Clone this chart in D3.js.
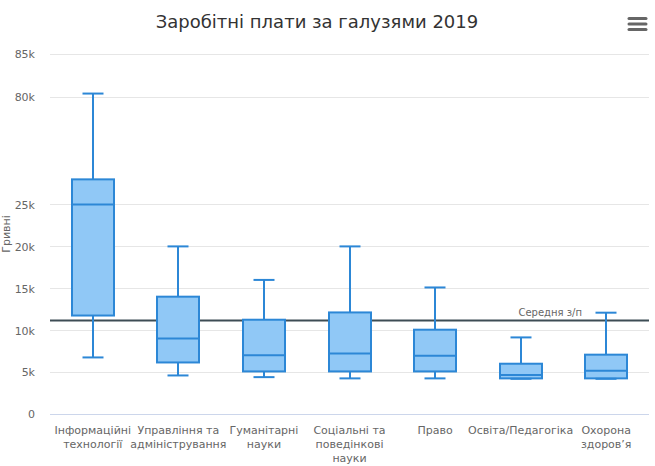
<!DOCTYPE html>
<html>
<head>
<meta charset="utf-8">
<script src="https://cdn.jsdelivr.net/npm/d3@7"></script>
<style>
  body { margin: 0; background: #fff; }
  text { font-family: "DejaVu Sans", Verdana, sans-serif; }
</style>
</head>
<body>
<div id="chart"></div>
<script>
// data
var categories = ["Інформаційні технології", "Управління та адміністрування", "Гуманітарні науки",
    "Соціальні та поведінкові науки", "Право", "Освіта/Педагогіка", "Охорона здоров’я"];
var lowValues    = [6750, 4600, 4400, 4250, 4250, 4200, 4200];
var q1Values     = [11750, 6150, 5080, 5080, 5080, 4250, 4250];
var medianValues = [25000, 9000, 7000, 7230, 6960, 4650, 5170];
var q3Values     = [28000, 14000, 11250, 12120, 10060, 6000, 7080];
var highValues   = [80400, 20000, 16000, 20000, 15100, 9140, 12090];
var meanSalary = 11150;
var tickValues = [0, 5000, 10000, 15000, 20000, 25000, 80000, 85000];

var width = 655, height = 466;
var margin = {left: 50, right: 6, top: 54, bottom: 52};
var color = {
    stroke: "#2c87d6",
    fill: "#90c8f6",
    mean: "#3d4d55",
    grid: "#e6e6e6",
    label: "#666666"
};

var svg = d3.select("#chart").append("svg")
    .attr("width", width)
    .attr("height", height);

var x = d3.scaleBand()
    .domain(categories)
    .range([margin.left, width - margin.right]);

// broken axis: 28k..78k squeezed
var bottom = height - margin.bottom;
var unit = 8.38 / 1000;
var y = d3.scaleLinear()
    .domain([0, 28000, 78000, 85000])
    .range([bottom, bottom - 28000 * unit, margin.top + 7000 * 8.6 / 1000, margin.top]);

// gridlines
svg.append("g")
    .selectAll("line")
    .data(tickValues.slice(1))
    .enter().append("line")
    .attr("x1", margin.left)
    .attr("x2", width - margin.right)
    .attr("y1", function (d) { return Math.round(y(d)) + 0.5; })
    .attr("y2", function (d) { return Math.round(y(d)) + 0.5; })
    .style("stroke", color.grid);

// y axis labels
var yAxis = d3.axisLeft(y)
    .tickValues(tickValues)
    .tickSize(0)
    .tickPadding(0)
    .tickFormat(function (d) { return d == 0 ? "0" : (d / 1000) + "k"; });

var gy = svg.append("g")
    .attr("transform", "translate(" + (margin.left - 15) + ",0)")
    .call(yAxis);
gy.select(".domain").remove();
gy.selectAll("text")
    .style("font-size", "11px")
    .style("fill", color.label)
    .attr("dy", "0.35em");

svg.append("text")
    .attr("transform", "translate(10," + ((margin.top + bottom) / 2) + ") rotate(-90)")
    .attr("text-anchor", "middle")
    .style("font-size", "11px")
    .style("fill", color.label)
    .text("Гривні");

// x axis
svg.append("line")
    .attr("x1", margin.left)
    .attr("x2", width - margin.right)
    .attr("y1", bottom + 0.5)
    .attr("y2", bottom + 0.5)
    .style("stroke", "#ccd6eb");

var gx = svg.append("g");
categories.forEach(function (c) {
    var t = gx.append("text")
        .attr("x", x(c) + x.bandwidth() / 2)
        .attr("y", bottom + 20)
        .attr("text-anchor", "middle")
        .style("font-size", "11px")
        .style("fill", color.label);
    wrap(t, c, x.bandwidth() - 2);
});

function wrap(t, str, w) {
    var words = str.split(" ");
    var line = [];
    var tspan = t.append("tspan").attr("x", t.attr("x")).attr("dy", 0);
    words.forEach(function (word) {
        line.push(word);
        tspan.text(line.join(" "));
        if (tspan.node().getComputedTextLength() > w && line.length > 1) {
            line.pop();
            tspan.text(line.join(" "));
            line = [word];
            tspan = t.append("tspan").attr("x", t.attr("x")).attr("dy", "14px").text(word);
        }
    });
}

// mean salary line (behind the boxes)
svg.append("line")
    .attr("x1", margin.left)
    .attr("x2", width - margin.right)
    .attr("y1", y(meanSalary))
    .attr("y2", y(meanSalary))
    .style("stroke", color.mean)
    .style("stroke-width", 2);

svg.append("text")
    .attr("x", 582)
    .attr("y", y(meanSalary) - 5)
    .attr("text-anchor", "end")
    .style("font-size", "10px")
    .style("fill", color.label)
    .text("Середня з/п");

// boxes
var boxW = 42, capW = 21;
var gBox = svg.append("g");
categories.forEach(function (c, i) {
    var cx = Math.round(x(c) + x.bandwidth() / 2);
    var g = gBox.append("g");
    // whisker stems
    g.append("line")
        .attr("x1", cx).attr("x2", cx)
        .attr("y1", y(highValues[i])).attr("y2", y(q3Values[i]))
        .style("stroke", color.stroke).style("stroke-width", 2);
    g.append("line")
        .attr("x1", cx).attr("x2", cx)
        .attr("y1", y(q1Values[i])).attr("y2", y(lowValues[i]))
        .style("stroke", color.stroke).style("stroke-width", 2);
    // box
    g.append("rect")
        .attr("x", cx - boxW / 2)
        .attr("y", y(q3Values[i]))
        .attr("width", boxW)
        .attr("height", y(q1Values[i]) - y(q3Values[i]))
        .style("fill", color.fill)
        .style("stroke", color.stroke)
        .style("stroke-width", 2);
    // median
    g.append("line")
        .attr("x1", cx - boxW / 2).attr("x2", cx + boxW / 2)
        .attr("y1", y(medianValues[i])).attr("y2", y(medianValues[i]))
        .style("stroke", color.stroke).style("stroke-width", 2);
    // caps
    [highValues[i], lowValues[i]].forEach(function (v) {
        g.append("line")
            .attr("x1", cx - capW / 2).attr("x2", cx + capW / 2)
            .attr("y1", y(v)).attr("y2", y(v))
            .style("stroke", color.stroke).style("stroke-width", 2);
    });
});

// title
svg.append("text")
    .attr("x", 317)
    .attr("y", 28)
    .attr("text-anchor", "middle")
    .style("font-size", "18px")
    .style("fill", "#333333")
    .text("Заробітні плати за галузями 2019");

// menu icon
svg.append("g")
    .selectAll("line")
    .data([0, 1, 2])
    .enter().append("line")
    .attr("x1", 629).attr("x2", 646)
    .attr("y1", function (d) { return 18.5 + d * 5.5; })
    .attr("y2", function (d) { return 18.5 + d * 5.5; })
    .style("stroke", "#666")
    .style("stroke-width", 3)
    .style("stroke-linecap", "round");
</script>
</body>
</html>
